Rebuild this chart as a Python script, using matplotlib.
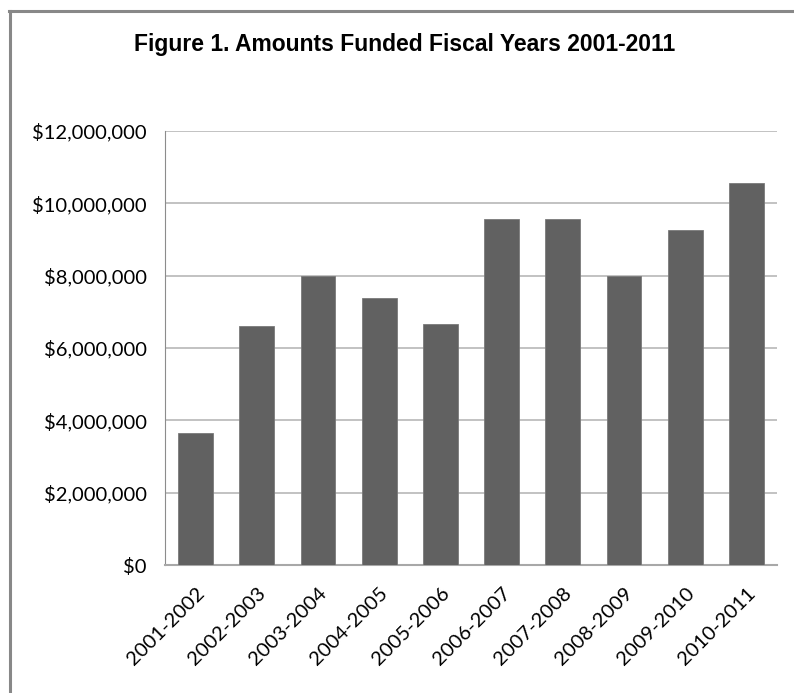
import matplotlib
matplotlib.use("Agg")
import matplotlib.pyplot as plt
from matplotlib.lines import Line2D
from matplotlib.ticker import FuncFormatter

categories = ["2001-2002", "2002-2003", "2003-2004", "2004-2005", "2005-2006",
              "2006-2007", "2007-2008", "2008-2009", "2009-2010", "2010-2011"]
amounts = [3660000, 6600000, 8000000, 7380000, 6650000,
           9560000, 9560000, 8000000, 9260000, 10570000]
yticks = [0, 2000000, 4000000, 6000000, 8000000, 10000000, 12000000]
title = "Figure 1. Amounts Funded Fiscal Years 2001-2011"

fig = plt.figure(figsize=(7.94, 6.93), dpi=100)
ax = fig.add_axes([0.2078, 0.1847, 0.7708, 0.6263])

x = range(len(categories))
ax.bar(x, amounts, width=0.57, color="#616161", edgecolor="#7a7a7a", linewidth=0.6, zorder=3)
ax.set_xlim(-0.5, len(categories) - 0.5)
ax.set_ylim(0, 12000000)
ax.set_yticks(yticks)
ax.yaxis.set_major_formatter(FuncFormatter(lambda v, p: "${:,.0f}".format(v)))
ax.grid(axis="y", color="#b8b8b8", linewidth=1.2, zorder=0)
ax.set_xticks(list(x))
ax.set_xticklabels(categories, rotation=45, ha="right", rotation_mode="anchor")

for s in ["top", "right"]:
    ax.spines[s].set_visible(False)
ax.spines["left"].set_color("#8c8c8c")
ax.spines["bottom"].set_color("#a8a8a8")
ax.spines["bottom"].set_linewidth(1.5)
ax.tick_params(axis="both", length=0, labelsize=14.5, labelcolor="#000000")
ax.tick_params(axis="y", pad=13)
ax.tick_params(axis="x", pad=14)
for lab in ax.get_xticklabels() + ax.get_yticklabels():
    lab.set_fontfamily("Lato")

fig.text(0.509, 1 - 45 / 693, title, ha="center", va="center",
         fontsize=16.5, fontweight="bold", family="Liberation Sans")

# outer chart frame (left and top edges)
W, H = 794, 693
fig.add_artist(Line2D([9.5 / W, 9.5 / W], [0, 1 - 10.5 / H], color="#888888", linewidth=2.2))
fig.add_artist(Line2D([9.5 / W - 0.001, 1], [1 - 10.5 / H, 1 - 10.5 / H], color="#888888", linewidth=2.2))

fig.savefig("out.png", dpi=100)
